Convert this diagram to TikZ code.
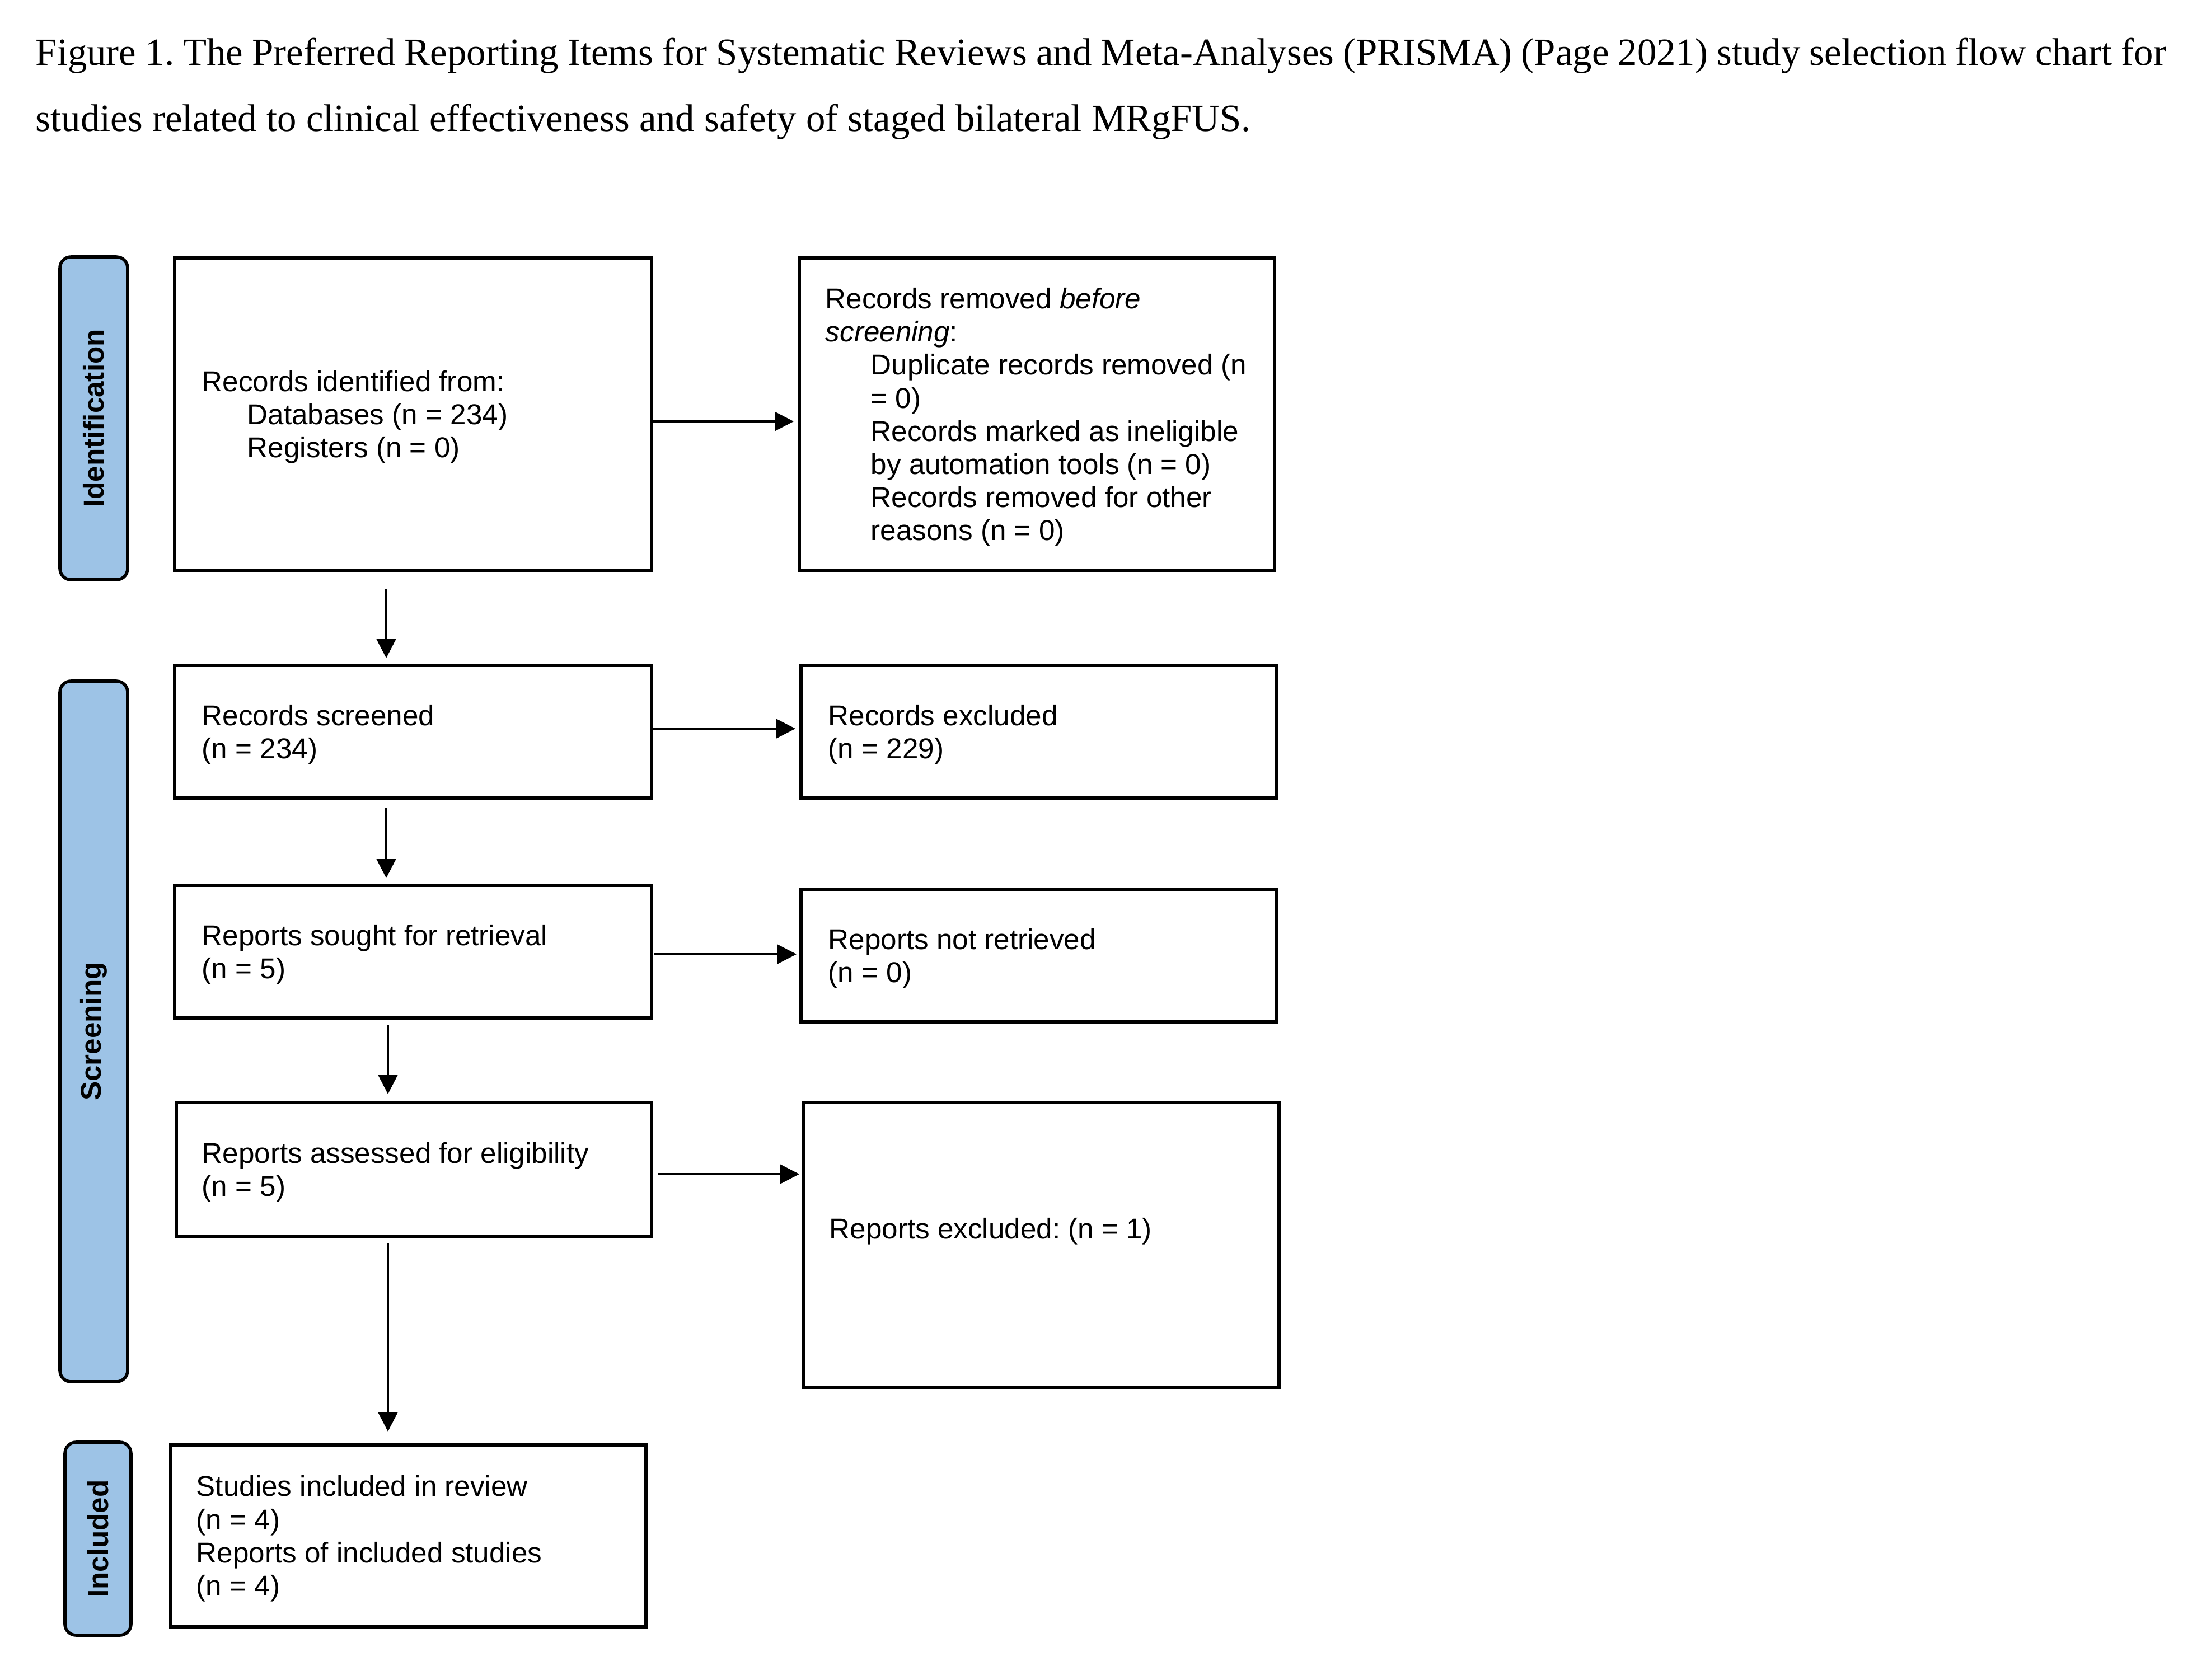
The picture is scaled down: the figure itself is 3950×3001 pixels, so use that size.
\documentclass[tikz,border=0pt]{standalone}
\usepackage{fontspec}
\setmainfont{Liberation Serif}
\newfontfamily\arialf{Liberation Sans}
\newfontfamily\labf{Liberation Sans}
\usetikzlibrary{arrows.meta,calc}
\definecolor{labblue}{RGB}{157,195,230}
\newcommand\myind{\hspace*{20.25pt}}
\frenchspacing
\begin{document}
\begin{tikzpicture}[x=0.25pt,y=-0.25pt,
  box/.style={draw, line width=1.6pt, rectangle, anchor=north west, outer sep=0pt, inner sep=0pt},
  txt/.style={anchor=west, align=left, inner sep=0pt, font=\arialf\fontsize{12.8}{14.8}\selectfont},
  lab/.style={draw, line width=1.4pt, fill=labblue, rounded corners=5pt, rotate=90, inner sep=0pt, font=\labf\bfseries\fontsize{12.8}{14}\selectfont},
  arr/.style={line width=1pt, -{Triangle[length=8.5pt,width=8.5pt]}},
  title/.style={anchor=base west, inner sep=0pt, font=\fontsize{17.2}{20}\selectfont}]
\useasboundingbox (0,0) rectangle (3950,3001);

% title
\node[title] (ti1) at (63,116) {\makebox[951.5pt][s]{Figure 1. The Preferred Reporting Items for Systematic Reviews and Meta-Analyses (PRISMA) (Page 2021) study selection flow chart for}};
\node[title] (ti2) at (63,234) {studies related to clinical effectiveness and safety of staged bilateral MRgFUS.};

% phase labels
\node[lab, minimum width=144.25pt, minimum height=30.25pt] (l1) at (167.5,747.5) {Identification};
\node[lab, minimum width=313pt, minimum height=30.25pt] (l2) at (167.5,1843) {Screening};
\node[lab, minimum width=86.25pt, minimum height=29.5pt] (l3) at (175,2749.5) {Included};

% boxes
\node[box, minimum width=213pt, minimum height=139.75pt] (b1) at (312,461) {};
\node[box, minimum width=212.25pt, minimum height=139.75pt] (b2) at (1428,461) {};
\node[box, minimum width=213pt, minimum height=59.25pt] (b3) at (312,1189) {};
\node[box, minimum width=212.25pt, minimum height=59.25pt] (b4) at (1431,1189) {};
\node[box, minimum width=213pt, minimum height=59.25pt] (b5) at (312,1582) {};
\node[box, minimum width=212.25pt, minimum height=59.25pt] (b6) at (1431,1589) {};
\node[box, minimum width=212.25pt, minimum height=59.75pt] (b7) at (315,1970) {};
\node[box, minimum width=212.25pt, minimum height=127.25pt] (b8) at (1436,1970) {};
\node[box, minimum width=212.25pt, minimum height=81.25pt] (b9) at (305,2582) {};

% texts
\node[txt] (t1) at ($(b1.west)+(48,5)$) {Records identified from:\\ \myind Databases (n = 234)\\ \myind Registers (n = 0)};
\node[txt] (t2) at ($(b2.west)+(46,5)$) {Records removed \textit{before}\\ \textit{screening}:\\ \myind Duplicate records removed (n\\ \myind = 0)\\ \myind Records marked as ineligible\\ \myind by automation tools (n = 0)\\ \myind Records removed for other\\ \myind reasons (n = 0)};
\node[txt] (t3) at ($(b3.west)+(48,5)$) {Records screened\\ (n = 234)};
\node[txt] (t4) at ($(b4.west)+(48,5)$) {Records excluded\\ (n = 229)};
\node[txt] (t5) at ($(b5.west)+(48,5)$) {Reports sought for retrieval\\ (n = 5)};
\node[txt] (t6) at ($(b6.west)+(48,5)$) {Reports not retrieved\\ (n = 0)};
\node[txt] (t7) at ($(b7.west)+(45,5)$) {Reports assessed for eligibility\\ (n = 5)};
\node[txt] (t8) at ($(b8.west)+(45,-24)$) {Reports excluded: (n = 1)};
\node[txt] (t9) at ($(b9.west)+(45,5)$) {Studies included in review\\ (n = 4)\\ Reports of included studies\\ (n = 4)};

% horizontal arrows
\draw[arr] ($(b1.north east)+(0,292)$) -- ($(b2.north west)+(-10,292)$);
\draw[arr] ($(b3.north east)+(0,113)$) -- ($(b4.north west)+(-10,113)$);
\draw[arr] ($(b5.north east)+(5,123)$) -- ($(b6.north west)+(-8,116)$);
\draw[arr] ($(b7.north east)+(12,128)$) -- ($(b8.north west)+(-8,128)$);

% vertical arrows
\draw[arr] ($(b1.south west)+(378,33)$) -- ($(b3.north west)+(378,-13)$);
\draw[arr] ($(b3.south west)+(378,17)$) -- ($(b5.north west)+(378,-13)$);
\draw[arr] ($(b5.south west)+(381,12)$) -- ($(b7.north west)+(378,-15)$);
\draw[arr] ($(b7.south west)+(378,13)$) -- ($(b9.north west)+(388,-24)$);
\end{tikzpicture}
\end{document}
